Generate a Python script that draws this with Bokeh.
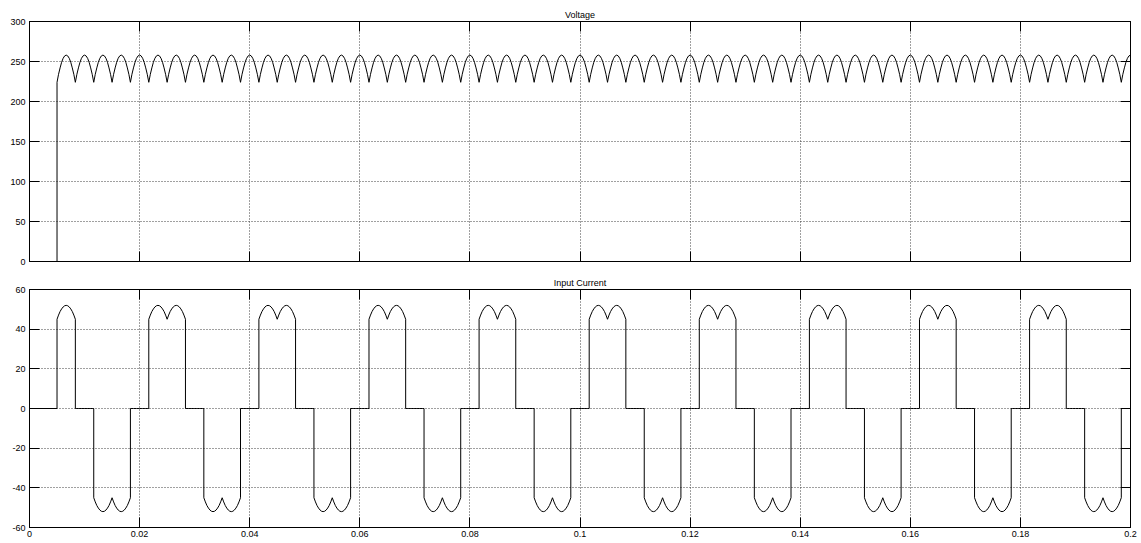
from bokeh.plotting import figure
from bokeh.layouts import column
from bokeh.models import Range1d, FixedTicker, LinearAxis
from bokeh.embed import file_html
from bokeh.resources import INLINE

# ---- data -----------------------------------------------------------------
SWITCH_ON = 0.005  # s, supply connected

# cusps of the rectified DC voltage (commutation instants), seconds
CUSP_T = [
    0.00500, 0.00833, 0.01167, 0.01500, 0.01833, 0.02167, 0.02500, 0.02833,
    0.03167, 0.03500, 0.03833, 0.04167, 0.04500, 0.04833, 0.05167, 0.05500,
    0.05833, 0.06167, 0.06500, 0.06833, 0.07167, 0.07500, 0.07833, 0.08167,
    0.08500, 0.08833, 0.09167, 0.09500, 0.09833, 0.10167, 0.10500, 0.10833,
    0.11167, 0.11500, 0.11833, 0.12167, 0.12500, 0.12833, 0.13167, 0.13500,
    0.13833, 0.14167, 0.14500, 0.14833, 0.15167, 0.15500, 0.15833, 0.16167,
    0.16500, 0.16833, 0.17167, 0.17500, 0.17833, 0.18167, 0.18500, 0.18833,
    0.19167, 0.19500, 0.19833, 0.20167,
]

# shape of one ripple arc between two cusps
ARC_PHASE = [0.0, 0.083, 0.167, 0.25, 0.333, 0.417, 0.5,
             0.583, 0.667, 0.75, 0.833, 0.917, 1.0]
ARC_VOLTS = [224, 234, 242, 249, 254, 257, 258, 257, 254, 249, 242, 234, 224]
ARC_AMPS = [45.0, 47.1, 48.9, 50.2, 51.2, 51.8, 52.0,
            51.8, 51.2, 50.2, 48.9, 47.1, 45.0]

# conduction intervals of the phase current
POS_ON = [0.00500, 0.02167, 0.04167, 0.06167, 0.08167,
          0.10167, 0.12167, 0.14167, 0.16167, 0.18167]
POS_OFF = [0.00833, 0.02833, 0.04833, 0.06833, 0.08833,
           0.10833, 0.12833, 0.14833, 0.16833, 0.18833]
NEG_ON = [0.01167, 0.03167, 0.05167, 0.07167, 0.09167,
          0.11167, 0.13167, 0.15167, 0.17167, 0.19167]
NEG_OFF = [0.01833, 0.03833, 0.05833, 0.07833, 0.09833,
           0.11833, 0.13833, 0.15833, 0.17833, 0.19833]

X_TICKS = [0, 0.02, 0.04, 0.06, 0.08, 0.1, 0.12, 0.14, 0.16, 0.18, 0.2]
X_LABELS = ["0", "0.02", "0.04", "0.06", "0.08", "0.1",
            "0.12", "0.14", "0.16", "0.18", "0.2"]
V_TICKS = [0, 50, 100, 150, 200, 250, 300]
V_LABELS = ["0", "50", "100", "150", "200", "250", "300"]
I_TICKS = [-60, -40, -20, 0, 20, 40, 60]
I_LABELS = ["-60", "-40", "-20", "0", "20", "40", "60"]

# ---- assemble traces ------------------------------------------------------
vt, vv = [0.0, SWITCH_ON], [0.0, 0.0]
it, ii = [0.0, SWITCH_ON], [0.0, 0.0]
for a, b in zip(CUSP_T[:-1], CUSP_T[1:]):
    mid = 0.5 * (a + b)
    if any(on < mid < off for on, off in zip(POS_ON, POS_OFF)):
        sign = 1
    elif any(on < mid < off for on, off in zip(NEG_ON, NEG_OFF)):
        sign = -1
    else:
        sign = 0
    for ph, v, c in zip(ARC_PHASE, ARC_VOLTS, ARC_AMPS):
        t = a + ph * (b - a)
        vt.append(t)
        vv.append(v)
        it.append(t)
        ii.append(sign * c)

FONT = "Liberation Sans"
FONT_SIZE = "9px"


def tick_only(ax):
    """Axis that shows tick marks but no labels."""
    ax.major_label_text_color = None
    ax.major_label_text_font_size = "1px"
    ax.major_label_standoff = 0


def make_panel(title, height, y0, y1, yticks, ylabels, top, bottom, show_x):
    p = figure(width=1141, height=height,
               x_range=Range1d(0, 0.2), y_range=Range1d(y0, y1),
               output_backend="svg", toolbar_location=None,
               min_border_left=29, min_border_right=11,
               min_border_top=top, min_border_bottom=bottom,
               background_fill_color="white", border_fill_color="white",
               outline_line_color="black")
    p.title.text = title
    p.title.align = "center"
    p.title.text_font = FONT
    p.title.text_font_size = FONT_SIZE
    p.title.text_font_style = "normal"
    p.title.text_color = "black"
    p.title.standoff = 3
    p.title.offset = 0

    for ax, ticks, labels in ((p.xaxis[0], X_TICKS, X_LABELS),
                              (p.yaxis[0], yticks, ylabels)):
        ax.ticker = FixedTicker(ticks=ticks)
        ax.major_label_overrides = dict(zip(ticks, labels))
        ax.axis_line_color = "black"
        ax.major_tick_line_color = "black"
        ax.major_tick_in = 10
        ax.major_tick_out = 0
        ax.minor_tick_line_color = None
        ax.major_label_text_font = FONT
        ax.major_label_text_font_size = FONT_SIZE
        ax.major_label_text_color = "black"
        ax.major_label_standoff = 4
    p.xaxis[0].major_label_standoff = 3
    if not show_x:
        tick_only(p.xaxis[0])

    # mirrored tick marks on the top and right edges
    for side, ticks in (("above", X_TICKS), ("right", yticks)):
        ax = LinearAxis(ticker=FixedTicker(ticks=ticks))
        ax.axis_line_color = "black"
        ax.major_tick_line_color = "black"
        ax.major_tick_in = 10
        ax.major_tick_out = 0
        ax.minor_tick_line_color = None
        tick_only(ax)
        p.add_layout(ax, side)

    for g in (p.xgrid[0], p.ygrid[0]):
        g.grid_line_color = "#404040"
        g.grid_line_dash = "1 2"
        g.grid_line_width = 1
    return p


p1 = make_panel("Voltage", 274, 0, 300, V_TICKS, V_LABELS, 21, 13, False)
p1.line(vt, vv, line_color="black", line_width=1)

p2 = make_panel("Input Current", 269, -60, 60, I_TICKS, I_LABELS, 13, 16, True)
p2.line(it, ii, line_color="black", line_width=1)

layout = column(p1, p2, spacing=0)
open("out.html", "w").write(file_html(layout, INLINE))
